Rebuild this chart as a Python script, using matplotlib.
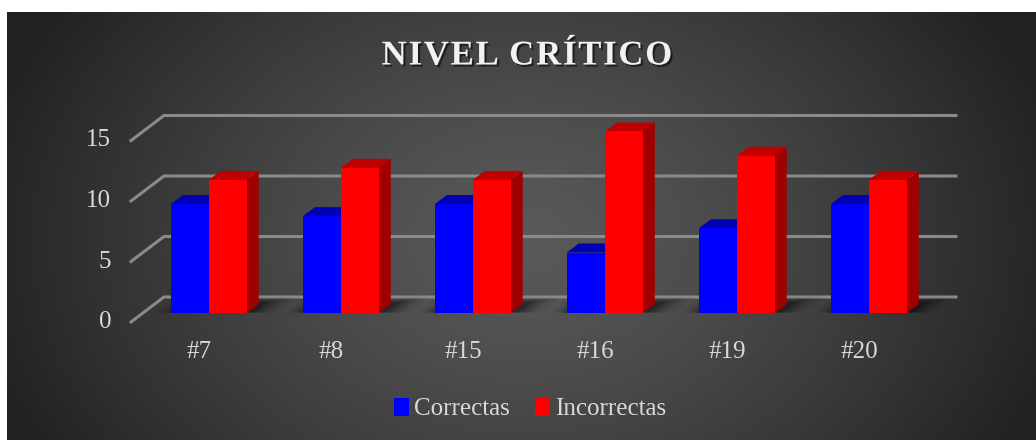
import numpy as np
import matplotlib.pyplot as plt
from matplotlib.patches import Polygon, Patch
from matplotlib.font_manager import FontProperties
import matplotlib.patheffects as pe

# Dades del gràfic
categorias = ["#7", "#8", "#15", "#16", "#19", "#20"]
correctas = [9, 8, 9, 5, 7, 9]
incorrectas = [11, 12, 11, 15, 13, 11]
ticks_y = [0, 5, 10, 15]
series = ["Correctas", "Incorrectas"]
titulo = "NIVEL CRÍTICO"

# Colors (frontal, superior, lateral)
COL_AZUL = ("#0000ff", "#0000b4", "#000096")
COL_ROJO = ("#ff0000", "#c00000", "#a00000")
COL_TEXTO = "#d9d9d9"
COL_GRID = "#8a8a8a"

# Perspectiva: desplaçament per unitat de profunditat (en unitats de dades)
PX_X = 132.0   # píxels per categoria
PX_Y = 12.1    # píxels per unitat
DX = 33 / PX_X
DY = 25 / PX_Y
D_FRONT, D_BACK = 0.36, 0.72
ANCHO = 38 / PX_X
FONT = ["Liberation Serif", "DejaVu Serif"]


def proj(x, v, d):
    """Projecta un punt (x, valor, profunditat) al pla de l'eix"""
    return (x + d * DX, v + d * DY)


def dibujar_barra(ax, x0, valor, colores):
    frontal, superior, lateral = colores
    x1 = x0 + ANCHO
    lado = [proj(x1, 0, D_FRONT), proj(x1, 0, D_BACK),
            proj(x1, valor, D_BACK), proj(x1, valor, D_FRONT)]
    techo = [proj(x0, valor, D_FRONT), proj(x1, valor, D_FRONT),
             proj(x1, valor, D_BACK), proj(x0, valor, D_BACK)]
    cara = [proj(x0, 0, D_FRONT), proj(x1, 0, D_FRONT),
            proj(x1, valor, D_FRONT), proj(x0, valor, D_FRONT)]
    for pts, col in [(lado, lateral), (techo, superior), (cara, frontal)]:
        ax.add_patch(Polygon(pts, closed=True, facecolor=col, lw=0,
                             zorder=3, clip_on=False))


def dibujar_sombra(ax, xc):
    # ombra difusa al terra al voltant de les barres
    for k, a in [(0.16, 0.06), (0.11, 0.09), (0.07, 0.12), (0.035, 0.15), (0.0, 0.18)]:
        xa = xc - ANCHO - k * 0.8
        xb = xc + ANCHO + 0.05 + k
        d0 = D_FRONT + 0.02
        d1 = min(1.0, D_BACK + 0.08 + k * 1.2)
        pts = [proj(xa, 0, d0), proj(xb, 0, d0), proj(xb, 0, d1), proj(xa, 0, d1)]
        ax.add_patch(Polygon(pts, closed=True, facecolor="black", alpha=a,
                             lw=0, zorder=2, clip_on=False))


def titulo_espaciado(fig, texto, xc, yc, size, track):
    """Escriu el títol lletra a lletra amb espaiat extra"""
    prop = FontProperties(family=FONT, weight="bold", size=size)
    rend = fig.canvas.get_renderer()
    W = fig.bbox.width
    H = fig.bbox.height

    def ancho(s):
        return rend.get_text_width_height_descent(s, prop, ismath=False)[0]

    posiciones = []
    for i, ch in enumerate(texto):
        if ch == " ":
            posiciones.append(None)
            continue
        x = ancho(texto[:i + 1]) - ancho(ch) + i * track
        posiciones.append(x)
    total = ancho(texto) + (len(texto) - 1) * track
    x_ini = xc - total / 2
    sombra = [pe.withSimplePatchShadow(offset=(1.5, -1.5), shadow_rgbFace="black", alpha=0.55)]
    for ch, x in zip(texto, posiciones):
        if x is None:
            continue
        fig.text((x_ini + x) / W, 1 - yc / H, ch, ha="left", va="center",
                 fontproperties=prop, color="#f2f2f2", path_effects=sombra)


def plot_nivel():
    W, H = 1036, 440
    fig = plt.figure(figsize=(W / 100, H / 100), dpi=100, facecolor="white")

    # Fons amb degradat radial
    bg = fig.add_axes([0, 0, 1, 1])
    bg.set_xlim(0, W)
    bg.set_ylim(H, 0)
    bg.axis("off")
    x0, y0 = 7, 12
    yy, xx = np.mgrid[y0:H, x0:W]
    cx, cy = (x0 + W) / 2, 240
    r = np.sqrt(((xx - cx) / 560) ** 2 + ((yy - cy) / 420) ** 2)
    val = np.clip(0.35 - 0.22 * r ** 1.3, 0.13, 0.36)
    img = np.dstack([val, val, val])
    bg.imshow(img, extent=(x0, W, H, y0), aspect="auto", interpolation="bilinear")

    # Eix principal: x en categories, y en valors
    left = (197 - 66) / W
    width = 6 * PX_X / W
    bottom = (H - 322) / H
    height = 15 * PX_Y / H
    ax = fig.add_axes([left, bottom, width, height])
    ax.set_xlim(-0.5, len(categorias) - 0.5)
    ax.set_ylim(0, 15)
    ax.axis("off")
    ax.patch.set_alpha(0)

    # Línies de la graella (paret del fons i diagonal lateral)
    x_ini = -0.5
    x_fin = len(categorias) - 0.5
    for t in ticks_y:
        p0 = proj(x_ini, t, 0)
        p1 = proj(x_ini, t, 1)
        p2 = proj(x_fin, t, 1)
        ax.plot([p0[0], p1[0], p2[0]], [p0[1], p1[1], p2[1]],
                color=COL_GRID, lw=2.2, clip_on=False, zorder=1,
                solid_joinstyle="miter")
        ax.text(x_ini - 20 / PX_X, t, str(t), ha="right", va="center",
                fontsize=18, color=COL_TEXTO, family=FONT)

    # Barres
    for i, cat in enumerate(categorias):
        dibujar_sombra(ax, i)
        dibujar_barra(ax, i - ANCHO, correctas[i], COL_AZUL)
        dibujar_barra(ax, i, incorrectas[i], COL_ROJO)
        ax.text(i + 2 / PX_X, -30 / PX_Y, cat, ha="center", va="center",
                fontsize=18, color=COL_TEXTO, family=FONT, clip_on=False)

    # Títol
    titulo_espaciado(fig, titulo, 527, 56, 25, 1.8)

    # Llegenda
    handles = [Patch(facecolor=COL_AZUL[0], label=series[0]),
               Patch(facecolor=COL_ROJO[0], label=series[1])]
    leg = fig.legend(handles=handles, loc="center", bbox_to_anchor=(530 / W, 1 - 409 / H),
                     ncol=2, frameon=False, handlelength=0.6, handleheight=0.75,
                     handletextpad=0.2, columnspacing=1.0,
                     prop={"family": FONT, "size": 18})
    for t in leg.get_texts():
        t.set_color(COL_TEXTO)

    fig.savefig("out.png", dpi=100, facecolor="white")


if __name__ == "__main__":
    plot_nivel()
